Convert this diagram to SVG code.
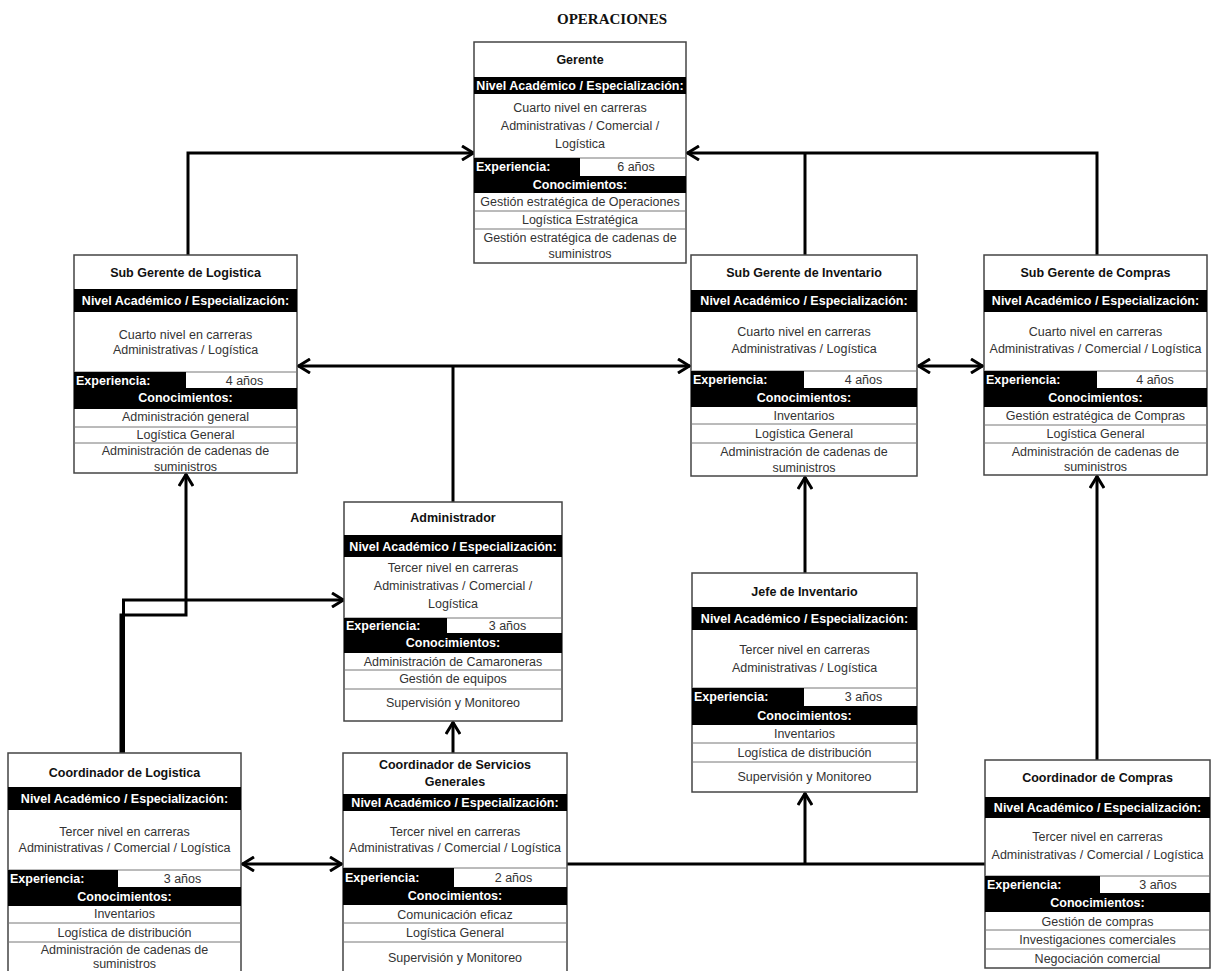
<svg xmlns="http://www.w3.org/2000/svg" width="1213" height="971" viewBox="0 0 1213 971">
<style>
  text { font-family: "Liberation Sans", Arial, sans-serif; font-size: 12.5px; text-anchor: middle; }
  .page { font-family: "Liberation Serif", "Times New Roman", serif; font-size: 15px; font-weight: bold; fill: #111; }
  .box { fill: #fff; stroke: #444; stroke-width: 1.5; }
  .band { fill: #000; }
  .div { stroke: #777; stroke-width: 1; }
  .ttl { font-weight: bold; fill: #111; }
  .hd { font-weight: bold; fill: #fff; }
  .xp { font-weight: bold; fill: #fff; text-anchor: start; }
  .tx { fill: #333; }
  .wire { fill: none; stroke: #000; stroke-width: 3; }
</style>
<defs>
  <marker id="head" viewBox="0 0 14 16" refX="13" refY="8" markerWidth="14" markerHeight="16" markerUnits="userSpaceOnUse" orient="auto-start-reverse">
    <path d="M1,1 L12.5,8 L1,15" fill="none" stroke="#000" stroke-width="3"/>
  </marker>
</defs>
<rect width="1213" height="971" fill="#fff"/>

<text class="page" x="612" y="24">OPERACIONES</text>

<!-- connectors -->
<g id="connectors">
  <path class="wire" d="M188,255 V153 H474" marker-end="url(#head)"/>
  <path class="wire" d="M1097,255 V153 H687" marker-end="url(#head)"/>
  <path class="wire" d="M805,255 V153"/>
  <path class="wire" d="M298,366 H690" marker-start="url(#head)" marker-end="url(#head)"/>
  <path class="wire" d="M453,502 V366"/>
  <path class="wire" d="M918,366 H983" marker-start="url(#head)" marker-end="url(#head)"/>
  <path class="wire" d="M805,573 V477" marker-end="url(#head)"/>
  <path class="wire" d="M1097,760 V476" marker-end="url(#head)"/>
  <path class="wire" d="M567,864 H985"/>
  <path class="wire" d="M805,864 V793" marker-end="url(#head)"/>
  <path class="wire" d="M453,753 V722" marker-end="url(#head)"/>
  <path class="wire" d="M242,864 H342" marker-start="url(#head)" marker-end="url(#head)"/>
  <path class="wire" d="M121,753 V615 H186 V474" marker-end="url(#head)"/>
  <path class="wire" d="M123.5,753 V600 H344" marker-end="url(#head)"/>
</g>

<!-- Gerente -->
<g id="gerente">
  <rect class="box" x="474" y="42" width="212" height="221"/>
  <text class="ttl" x="580" y="64">Gerente</text>
  <rect class="band" x="474" y="77" width="212" height="17"/>
  <text class="hd" x="580" y="90">Nivel Académico / Especialización:</text>
  <text class="tx" x="580" y="112">Cuarto nivel en carreras</text>
  <text class="tx" x="580" y="130">Administrativas / Comercial /</text>
  <text class="tx" x="580" y="148">Logística</text>
  <line class="div" x1="474" y1="158" x2="686" y2="158"/>
  <rect class="band" x="474" y="158" width="106" height="18"/>
  <text class="xp" x="476" y="171">Experiencia:</text>
  <text class="tx" x="636" y="171">6 años</text>
  <rect class="band" x="474" y="176" width="212" height="17"/>
  <text class="hd" x="580" y="189">Conocimientos:</text>
  <text class="tx" x="580" y="206">Gestión estratégica de Operaciones</text>
  <line class="div" x1="474" y1="211" x2="686" y2="211"/>
  <text class="tx" x="580" y="224">Logística Estratégica</text>
  <line class="div" x1="474" y1="229" x2="686" y2="229"/>
  <text class="tx" x="580" y="242">Gestión estratégica de cadenas de</text>
  <text class="tx" x="580" y="258">suministros</text>
</g>

<!-- Sub Gerente de Logistica -->
<g id="sub-gerente-logistica">
  <rect class="box" x="74" y="255" width="223" height="218"/>
  <text class="ttl" x="185.5" y="277">Sub Gerente de Logistica</text>
  <rect class="band" x="74" y="289" width="223" height="23"/>
  <text class="hd" x="185.5" y="305">Nivel Académico / Especialización:</text>
  <text class="tx" x="185.5" y="339">Cuarto nivel en carreras</text>
  <text class="tx" x="185.5" y="354">Administrativas / Logística</text>
  <line class="div" x1="74" y1="372" x2="297" y2="372"/>
  <rect class="band" x="74" y="372" width="112" height="16"/>
  <text class="xp" x="76" y="385">Experiencia:</text>
  <text class="tx" x="244.5" y="385">4 años</text>
  <rect class="band" x="74" y="388" width="223" height="21"/>
  <text class="hd" x="185.5" y="402">Conocimientos:</text>
  <text class="tx" x="185.5" y="421">Administración general</text>
  <line class="div" x1="74" y1="427" x2="297" y2="427"/>
  <text class="tx" x="185.5" y="439">Logística General</text>
  <line class="div" x1="74" y1="443" x2="297" y2="443"/>
  <text class="tx" x="185.5" y="455">Administración de cadenas de</text>
  <text class="tx" x="185.5" y="471">suministros</text>
</g>

<!-- Sub Gerente de Inventario -->
<g id="sub-gerente-inventario">
  <rect class="box" x="691" y="255" width="226" height="221"/>
  <text class="ttl" x="804" y="277">Sub Gerente de Inventario</text>
  <rect class="band" x="691" y="290" width="226" height="22"/>
  <text class="hd" x="804" y="305">Nivel Académico / Especialización:</text>
  <text class="tx" x="804" y="336">Cuarto nivel en carreras</text>
  <text class="tx" x="804" y="353">Administrativas / Logística</text>
  <line class="div" x1="691" y1="371" x2="917" y2="371"/>
  <rect class="band" x="691" y="371" width="113" height="17"/>
  <text class="xp" x="693" y="384">Experiencia:</text>
  <text class="tx" x="863.5" y="384">4 años</text>
  <rect class="band" x="691" y="388" width="226" height="19"/>
  <text class="hd" x="804" y="402">Conocimientos:</text>
  <text class="tx" x="804" y="420">Inventarios</text>
  <line class="div" x1="691" y1="424" x2="917" y2="424"/>
  <text class="tx" x="804" y="438">Logística General</text>
  <line class="div" x1="691" y1="443" x2="917" y2="443"/>
  <text class="tx" x="804" y="456">Administración de cadenas de</text>
  <text class="tx" x="804" y="472">suministros</text>
</g>

<!-- Sub Gerente de Compras -->
<g id="sub-gerente-compras">
  <rect class="box" x="984" y="255" width="223" height="220"/>
  <text class="ttl" x="1095.5" y="277">Sub Gerente de Compras</text>
  <rect class="band" x="984" y="290" width="223" height="22"/>
  <text class="hd" x="1095.5" y="305">Nivel Académico / Especialización:</text>
  <text class="tx" x="1095.5" y="336">Cuarto nivel en carreras</text>
  <text class="tx" x="1095.5" y="353">Administrativas / Comercial / Logística</text>
  <line class="div" x1="984" y1="371" x2="1207" y2="371"/>
  <rect class="band" x="984" y="371" width="113" height="17"/>
  <text class="xp" x="986" y="384">Experiencia:</text>
  <text class="tx" x="1155" y="384">4 años</text>
  <rect class="band" x="984" y="388" width="223" height="19"/>
  <text class="hd" x="1095.5" y="402">Conocimientos:</text>
  <text class="tx" x="1095.5" y="420">Gestión estratégica de Compras</text>
  <line class="div" x1="984" y1="425" x2="1207" y2="425"/>
  <text class="tx" x="1095.5" y="438">Logística General</text>
  <line class="div" x1="984" y1="443" x2="1207" y2="443"/>
  <text class="tx" x="1095.5" y="456">Administración de cadenas de</text>
  <text class="tx" x="1095.5" y="471">suministros</text>
</g>

<!-- Administrador -->
<g id="administrador">
  <rect class="box" x="344" y="502" width="218" height="219"/>
  <text class="ttl" x="453" y="522">Administrador</text>
  <rect class="band" x="344" y="535" width="218" height="22"/>
  <text class="hd" x="453" y="551">Nivel Académico / Especialización:</text>
  <text class="tx" x="453" y="572">Tercer nivel en carreras</text>
  <text class="tx" x="453" y="590">Administrativas / Comercial /</text>
  <text class="tx" x="453" y="608">Logística</text>
  <line class="div" x1="344" y1="618" x2="562" y2="618"/>
  <rect class="band" x="344" y="618" width="103" height="15"/>
  <text class="xp" x="346" y="630">Experiencia:</text>
  <text class="tx" x="507.5" y="630">3 años</text>
  <rect class="band" x="344" y="633" width="218" height="20"/>
  <text class="hd" x="453" y="647">Conocimientos:</text>
  <text class="tx" x="453" y="666">Administración de Camaroneras</text>
  <line class="div" x1="344" y1="670" x2="562" y2="670"/>
  <text class="tx" x="453" y="683">Gestión de equipos</text>
  <line class="div" x1="344" y1="689" x2="562" y2="689"/>
  <text class="tx" x="453" y="707">Supervisión y Monitoreo</text>
</g>

<!-- Jefe de Inventario -->
<g id="jefe-inventario">
  <rect class="box" x="692" y="573" width="225" height="219"/>
  <text class="ttl" x="804.5" y="596">Jefe de Inventario</text>
  <rect class="band" x="692" y="607" width="225" height="23"/>
  <text class="hd" x="804.5" y="623">Nivel Académico / Especialización:</text>
  <text class="tx" x="804.5" y="654">Tercer nivel en carreras</text>
  <text class="tx" x="804.5" y="672">Administrativas / Logística</text>
  <line class="div" x1="692" y1="688" x2="917" y2="688"/>
  <rect class="band" x="692" y="688" width="112" height="18"/>
  <text class="xp" x="694" y="701">Experiencia:</text>
  <text class="tx" x="863.5" y="701">3 años</text>
  <rect class="band" x="692" y="706" width="225" height="19"/>
  <text class="hd" x="804.5" y="720">Conocimientos:</text>
  <text class="tx" x="804.5" y="738">Inventarios</text>
  <line class="div" x1="692" y1="743" x2="917" y2="743"/>
  <text class="tx" x="804.5" y="757">Logística de distribución</text>
  <line class="div" x1="692" y1="762" x2="917" y2="762"/>
  <text class="tx" x="804.5" y="781">Supervisión y Monitoreo</text>
</g>

<!-- Coordinador de Logistica -->
<g id="coordinador-logistica">
  <rect class="box" x="8" y="753" width="233" height="240"/>
  <text class="ttl" x="124.5" y="777">Coordinador de Logistica</text>
  <rect class="band" x="8" y="787" width="233" height="23"/>
  <text class="hd" x="124.5" y="803">Nivel Académico / Especialización:</text>
  <text class="tx" x="124.5" y="836">Tercer nivel en carreras</text>
  <text class="tx" x="124.5" y="852">Administrativas / Comercial / Logística</text>
  <line class="div" x1="8" y1="870" x2="241" y2="870"/>
  <rect class="band" x="8" y="870" width="110" height="17"/>
  <text class="xp" x="10" y="883">Experiencia:</text>
  <text class="tx" x="182.5" y="883">3 años</text>
  <rect class="band" x="8" y="887" width="233" height="19"/>
  <text class="hd" x="124.5" y="901">Conocimientos:</text>
  <text class="tx" x="124.5" y="918">Inventarios</text>
  <line class="div" x1="8" y1="923" x2="241" y2="923"/>
  <text class="tx" x="124.5" y="937">Logística de distribución</text>
  <line class="div" x1="8" y1="942" x2="241" y2="942"/>
  <text class="tx" x="124.5" y="954">Administración de cadenas de</text>
  <text class="tx" x="124.5" y="968">suministros</text>
</g>

<!-- Coordinador de Servicios Generales -->
<g id="coordinador-servicios">
  <rect class="box" x="343" y="753" width="224" height="240"/>
  <text class="ttl" x="455" y="769">Coordinador de Servicios</text>
  <text class="ttl" x="455" y="786">Generales</text>
  <rect class="band" x="343" y="794" width="224" height="17"/>
  <text class="hd" x="455" y="807">Nivel Académico / Especialización:</text>
  <text class="tx" x="455" y="836">Tercer nivel en carreras</text>
  <text class="tx" x="455" y="852">Administrativas / Comercial / Logística</text>
  <line class="div" x1="343" y1="868" x2="567" y2="868"/>
  <rect class="band" x="343" y="868" width="111" height="19"/>
  <text class="xp" x="345" y="882">Experiencia:</text>
  <text class="tx" x="513.5" y="882">2 años</text>
  <rect class="band" x="343" y="887" width="224" height="18"/>
  <text class="hd" x="455" y="900">Conocimientos:</text>
  <text class="tx" x="455" y="919">Comunicación eficaz</text>
  <line class="div" x1="343" y1="923" x2="567" y2="923"/>
  <text class="tx" x="455" y="937">Logística General</text>
  <line class="div" x1="343" y1="942" x2="567" y2="942"/>
  <text class="tx" x="455" y="962">Supervisión y Monitoreo</text>
</g>

<!-- Coordinador de Compras -->
<g id="coordinador-compras">
  <rect class="box" x="985" y="760" width="225" height="208"/>
  <text class="ttl" x="1097.5" y="782">Coordinador de Compras</text>
  <rect class="band" x="985" y="797" width="225" height="21"/>
  <text class="hd" x="1097.5" y="812">Nivel Académico / Especialización:</text>
  <text class="tx" x="1097.5" y="841">Tercer nivel en carreras</text>
  <text class="tx" x="1097.5" y="859">Administrativas / Comercial / Logística</text>
  <line class="div" x1="985" y1="876" x2="1210" y2="876"/>
  <rect class="band" x="985" y="876" width="115" height="17"/>
  <text class="xp" x="987" y="889">Experiencia:</text>
  <text class="tx" x="1158" y="889">3 años</text>
  <rect class="band" x="985" y="893" width="225" height="19"/>
  <text class="hd" x="1097.5" y="907">Conocimientos:</text>
  <text class="tx" x="1097.5" y="926">Gestión de compras</text>
  <line class="div" x1="985" y1="930" x2="1210" y2="930"/>
  <text class="tx" x="1097.5" y="944">Investigaciones comerciales</text>
  <line class="div" x1="985" y1="949" x2="1210" y2="949"/>
  <text class="tx" x="1097.5" y="963">Negociación comercial</text>
</g>
</svg>
